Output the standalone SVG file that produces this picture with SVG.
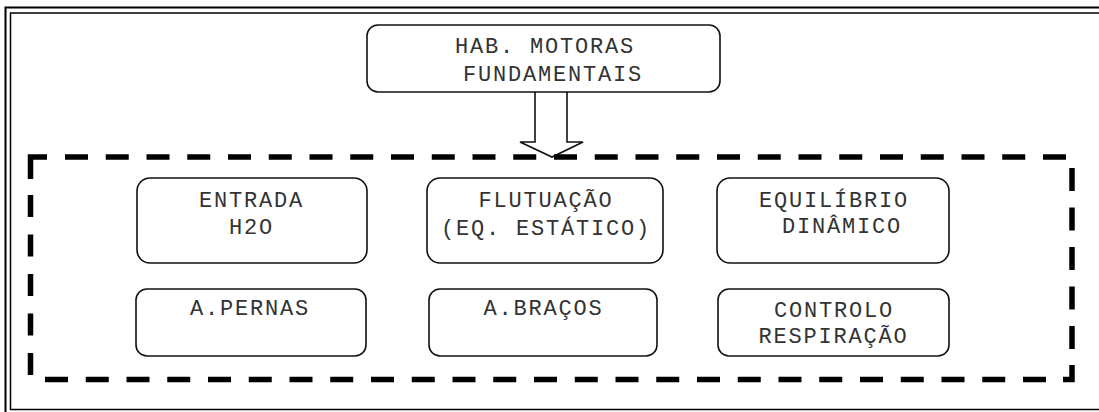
<svg xmlns="http://www.w3.org/2000/svg" width="1099" height="412" viewBox="0 0 1099 412">
<style>
.box{fill:#fff;stroke:#111;stroke-width:1.6}
.t{font-family:"Liberation Mono","Courier New",monospace;font-size:22px;letter-spacing:1.8px;fill:#333;text-anchor:middle}
.dash{fill:none;stroke:#000;stroke-width:5.5;stroke-dasharray:23 17.75}
.solid{fill:none;stroke:#000;stroke-width:5.5;stroke-linejoin:miter}
</style>
<rect width="1099" height="412" fill="#fff"/>
<g id="frame">
<rect x="5.5" y="7.5" width="1110" height="420" fill="none" stroke="#000" stroke-width="2"/>
<rect x="10.5" y="13" width="1100" height="396.5" fill="none" stroke="#000" stroke-width="1.5"/>
</g>
<g id="connectors">
<path d="M535 92 V142 H520 L552 157 L583 142 H567 V92" fill="#fff" stroke="#111" stroke-width="1.6" stroke-linejoin="miter"/>
</g>
<g id="group-border">
<path class="solid" d="M30.5 179 V157 H47"/>
<path class="dash" d="M65 157 H1066"/>
<path class="dash" style="stroke-dasharray:23 16.5" d="M1072 168 V350"/>
<path class="solid" d="M1072 365 V379.5 H1063"/>
<path class="dash" d="M45 379.5 H1047"/>
<path class="dash" style="stroke-dasharray:22 17.5" d="M30.5 375 V195"/>
</g>
<g id="hab">
<rect class="box" x="367" y="25" width="353" height="67" rx="11"/>
<text class="t" x="545" y="53">HAB. MOTORAS</text>
<text class="t" x="553" y="81">FUNDAMENTAIS</text>
</g>
<g id="entrada">
<rect class="box" x="137" y="178" width="230" height="85" rx="13"/>
<text class="t" x="251.5" y="207">ENTRADA</text>
<text class="t" x="251.5" y="234">H2O</text>
</g>
<g id="flutuacao">
<rect class="box" x="427" y="178" width="236" height="85" rx="13"/>
<text class="t" x="546" y="207">FLUTUAÇÃO</text>
<text class="t" x="546" y="235">(EQ. ESTÁTICO)</text>
</g>
<g id="equilibrio">
<rect class="box" x="717" y="178" width="232" height="85" rx="13"/>
<text class="t" x="834" y="207">EQUILÍBRIO</text>
<text class="t" x="842" y="233">DINÂMICO</text>
</g>
<g id="pernas">
<rect class="box" x="136" y="289" width="230" height="67" rx="11"/>
<text class="t" x="250" y="315">A.PERNAS</text>
</g>
<g id="bracos">
<rect class="box" x="429" y="289" width="228" height="67" rx="11"/>
<text class="t" x="543.5" y="315">A.BRAÇOS</text>
</g>
<g id="controlo">
<rect class="box" x="718" y="289" width="231" height="67" rx="11"/>
<text class="t" x="834" y="317">CONTROLO</text>
<text class="t" x="833.5" y="343">RESPIRAÇÃO</text>
</g>
</svg>
